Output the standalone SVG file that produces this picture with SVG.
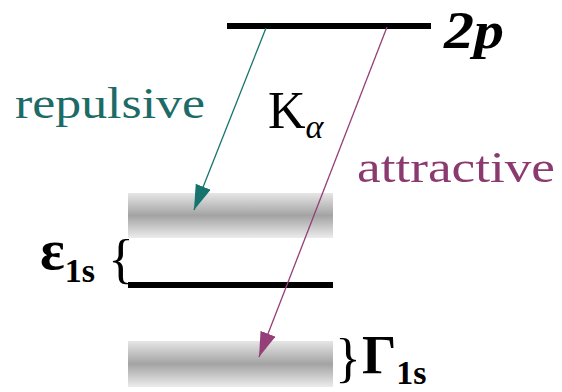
<svg xmlns="http://www.w3.org/2000/svg" width="562" height="392" viewBox="0 0 562 392">
<style>
  .serif { font-family: "Liberation Serif", "DejaVu Serif", serif; }
  .level { stroke: #000; stroke-width: 6; }
  .band { fill: url(#bandGrad); }
  .teal { fill: #1d6b67; }
  .purple { fill: #8b3a6f; }
  .bold { font-weight: bold; }
</style>
<defs>
  <linearGradient id="bandGrad" x1="0" y1="0" x2="0" y2="1">
    <stop offset="0" stop-color="#e6e6e6"/>
    <stop offset="0.5" stop-color="#a3a3a3"/>
    <stop offset="1" stop-color="#ececec"/>
  </linearGradient>
  <marker id="headTeal" markerUnits="userSpaceOnUse" markerWidth="26" markerHeight="16" refX="25" refY="8" orient="auto">
    <path d="M0,0 L25,8 L0,16 Z" fill="#16736d"/>
  </marker>
  <marker id="headPurple" markerUnits="userSpaceOnUse" markerWidth="26" markerHeight="16" refX="25" refY="8" orient="auto">
    <path d="M0,0 L25,8 L0,16 Z" fill="#953f79"/>
  </marker>
</defs>
<rect width="562" height="392" fill="#fff"/>

<g id="level-2p">
  <line class="level" x1="227" y1="26" x2="431" y2="26"/>
  <text class="serif bold" x="444" y="48" font-size="52" font-style="italic" textLength="60" lengthAdjust="spacingAndGlyphs">2p</text>
</g>

<g id="band-upper">
  <rect class="band" x="128" y="193" width="205" height="45"/>
</g>

<g id="level-1s">
  <line class="level" x1="128" y1="285" x2="333" y2="285"/>
  <text class="serif" x="108" y="277" font-size="54">{</text>
  <text class="serif bold" x="40" y="269" font-size="58">ε<tspan font-size="34" dy="13">1s</tspan></text>
</g>

<g id="band-lower">
  <rect class="band" x="128" y="341" width="205" height="46"/>
  <text class="serif" x="335" y="376" font-size="54">}</text>
  <text class="serif bold" x="362" y="373" font-size="54">Γ<tspan font-size="34" dy="11">1s</tspan></text>
</g>

<g id="labels">
  <text class="serif teal" x="15" y="118" font-size="44" textLength="190" lengthAdjust="spacingAndGlyphs">repulsive</text>
  <text class="serif" x="268" y="128" font-size="52">K<tspan font-size="34" font-style="italic" dy="10">α</tspan></text>
  <text class="serif purple" x="357" y="182" font-size="44" textLength="198" lengthAdjust="spacingAndGlyphs">attractive</text>
</g>

<g id="connectors">
  <line x1="266" y1="28" x2="194" y2="210" stroke="#16736d" stroke-width="1.3" marker-end="url(#headTeal)"/>
  <line x1="387" y1="27" x2="259" y2="357" stroke="#953f79" stroke-width="1.3" marker-end="url(#headPurple)"/>
</g>
</svg>
